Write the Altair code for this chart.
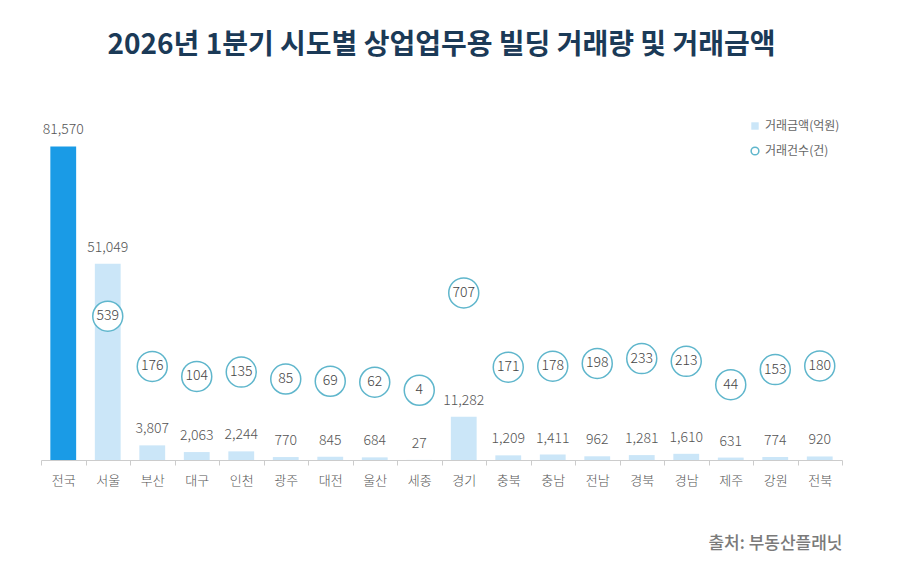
import altair as alt
import pandas as pd

regions = ["전국", "서울", "부산", "대구", "인천", "광주", "대전", "울산", "세종",
           "경기", "충북", "충남", "전남", "경북", "경남", "제주", "강원", "전북"]
amounts = [81570, 51049, 3807, 2063, 2244, 770, 845, 684, 27,
           11282, 1209, 1411, 962, 1281, 1610, 631, 774, 920]
counts = [None, 539, 176, 104, 135, 85, 69, 62, 4,
          707, 171, 178, 198, 233, 213, 44, 153, 180]

df = pd.DataFrame({"region": regions, "amount": amounts, "count": counts})

FONT = "Noto Sans CJK KR"
S_AMT = "거래금액(억원)"
S_CNT = "거래건수(건)"

x = alt.X("region:N", sort=regions,
          scale=alt.Scale(paddingInner=0, paddingOuter=0),
          axis=alt.Axis(title="출처: 부동산플래닛", titleAnchor="end", titleAlign="right",
                        titleFontSize=17, titleColor="#7a7a7a", titleFontWeight=500,
                        titleFont=FONT, titlePadding=48,
                        labelAngle=0, labelPadding=9, labelFontSize=13, labelColor="#555555",
                        labelFont=FONT, labelFontWeight=300,
                        domainColor="#cccccc", tickColor="#cccccc",
                        tickBand="extent", tickSize=5))

y_amt = alt.Y("amount:Q", scale=alt.Scale(domain=[0, 90000], nice=False), axis=None)
y_cnt = alt.Y("count:Q", scale=alt.Scale(domain=[-500, 2000], nice=False), axis=None)

bars = alt.Chart(df).transform_calculate(series=f"'{S_AMT}'").mark_bar(
    width={"band": 0.58}
).encode(
    x=x,
    y=y_amt,
    fill=alt.condition(
        "datum.region === '전국'",
        alt.value("#1a9be6"),
        alt.Fill("series:N",
                 scale=alt.Scale(domain=[S_AMT], range=["#cbe6f8"]),
                 legend=alt.Legend(title=None, orient="none", legendX=708, legendY=6,
                                   symbolType="square", symbolSize=55,
                                   labelFont=FONT, labelFontSize=12, labelColor="#666666")),
    ),
)

bar_text = alt.Chart(df).mark_text(dy=-16, baseline="middle", fontSize=14, fontWeight=300,
                                   font=FONT, color="#555555").encode(
    x=x, y=y_amt, text=alt.Text("amount:Q", format=",")
)

circles = alt.Chart(df).transform_filter("isValid(datum['count'])").transform_calculate(
    series2=f"'{S_CNT}'"
).mark_point(shape="circle", size=900, fill="white", fillOpacity=1, opacity=1,
             strokeWidth=1.5).encode(
    x=x,
    y=y_cnt,
    stroke=alt.Stroke("series2:N",
                      scale=alt.Scale(domain=[S_CNT], range=["#5fb6cc"]),
                      legend=alt.Legend(title=None, orient="none", legendX=708, legendY=31,
                                        symbolType="circle", symbolSize=60,
                                        symbolStrokeWidth=1.5, symbolFillColor="white",
                                        labelFont=FONT, labelFontSize=12,
                                        labelColor="#666666")),
)

circle_text = alt.Chart(df).transform_filter("isValid(datum['count'])").mark_text(
    baseline="middle", fontSize=14, fontWeight=300, font=FONT, color="#444444"
).encode(x=x, y=y_cnt, text=alt.Text("count:Q"))

chart = alt.layer(bars, bar_text, circles, circle_text).resolve_scale(
    y="independent", fill="independent", stroke="independent"
).properties(
    width=801, height=346,
    title=alt.Title("2026년 1분기 시도별 상업업무용 빌딩 거래량 및 거래금액",
                    font=FONT, fontSize=28, fontWeight="bold", color="#1b3a57",
                    anchor="middle", offset=54),
    autosize=alt.AutoSizeParams(type="none"),
    padding={"left": 33, "top": 106, "right": 40, "bottom": 103},
).configure_view(stroke=None)

chart.save("out.html", embed_options={"renderer": "svg", "actions": False})
